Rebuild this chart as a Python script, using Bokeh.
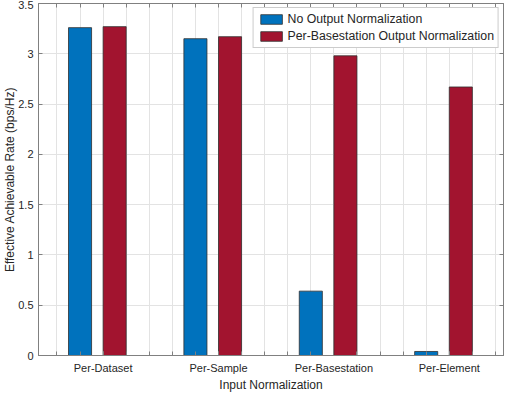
from bokeh.plotting import figure
from bokeh.models import Range1d, FixedTicker, LinearAxis, ColumnDataSource, Legend, LegendItem
from bokeh.embed import file_html
from bokeh.resources import INLINE

categories = ["Per-Dataset", "Per-Sample", "Per-Basestation", "Per-Element"]
no_output_norm = [3.26, 3.15, 0.64, 0.04]
per_bs_output_norm = [3.27, 3.17, 2.98, 2.67]
series_names = ["No Output Normalization", "Per-Basestation Output Normalization"]
y_ticks = [0, 0.5, 1, 1.5, 2, 2.5, 3, 3.5]
y_tick_labels = ["0", "0.5", "1", "1.5", "2", "2.5", "3", "3.5"]

FONT = "Liberation Sans"
TXT = "#262626"
AX = "#808080"
BLUE = "#0072BD"
RED = "#A2142F"

idx = [i + 1 for i in range(len(categories))]
src = ColumnDataSource(dict(
    xb=[i - 0.15 for i in idx],
    xr=[i + 0.15 for i in idx],
    b=no_output_norm,
    r=per_bs_output_norm,
))

p = figure(width=506, height=394, output_backend="svg", toolbar_location=None,
           x_range=Range1d(0.49, 4.52), y_range=Range1d(0, 3.5),
           min_border_left=0, min_border_right=3, min_border_top=3, min_border_bottom=0)

x_ticks = [round(0.65 + 0.2 * k, 2) for k in range(20)]
label_pos = [round(i + 0.05, 2) for i in idx]

p.xaxis.ticker = FixedTicker(ticks=label_pos, minor_ticks=x_ticks)
p.xaxis.major_label_overrides = {t: c for t, c in zip(label_pos, categories)}
p.xgrid.ticker = FixedTicker(ticks=x_ticks)
p.yaxis.ticker = FixedTicker(ticks=y_ticks)
p.yaxis.major_label_overrides = {t: l for t, l in zip(y_ticks, y_tick_labels)}
p.ygrid.ticker = FixedTicker(ticks=y_ticks)

for ax in (p.xaxis[0], p.yaxis[0]):
    ax.axis_line_color = AX
    ax.major_tick_line_color = AX
    ax.major_tick_in = 4
    ax.major_tick_out = 0
    ax.minor_tick_line_color = AX
    ax.minor_tick_in = 4
    ax.minor_tick_out = 0
    ax.major_label_text_font = FONT
    ax.major_label_text_font_size = "11px"
    ax.major_label_text_color = TXT
    ax.major_label_text_line_height = 1.0
    ax.axis_label_text_font = FONT
    ax.axis_label_text_font_size = "12px"
    ax.axis_label_text_color = TXT
    ax.axis_label_text_font_style = "normal"
    ax.axis_label_text_line_height = 1.0

p.xaxis.axis_label = "Input Normalization"
p.yaxis.axis_label = "Effective Achievable Rate (bps/Hz)"
p.xaxis.major_label_standoff = 6
p.xaxis.axis_label_standoff = 1
p.yaxis.major_label_standoff = 5
p.yaxis.axis_label_standoff = -2

top = LinearAxis(ticker=FixedTicker(ticks=[], minor_ticks=x_ticks),
                 major_label_standoff=0, major_tick_in=0, major_tick_out=0,
                 minor_tick_in=4, minor_tick_out=0,
                 axis_line_color=AX, minor_tick_line_color=AX)
right = LinearAxis(ticker=FixedTicker(ticks=[], minor_ticks=y_ticks),
                   major_label_standoff=0, major_tick_in=0, major_tick_out=0,
                   minor_tick_in=4, minor_tick_out=0,
                   axis_line_color=AX, minor_tick_line_color=AX)
p.add_layout(top, "above")
p.add_layout(right, "right")

p.xgrid.grid_line_color = "#e3e3e3"
p.ygrid.grid_line_color = "#e3e3e3"
p.outline_line_color = AX

rb = p.vbar(x="xb", top="b", width=0.2, source=src, fill_color=BLUE,
            line_color="#303030", line_width=0.8)
rr = p.vbar(x="xr", top="r", width=0.2, source=src, fill_color=RED,
            line_color="#303030", line_width=0.8)

legend = Legend(items=[LegendItem(label=series_names[0], renderers=[rb]),
                       LegendItem(label=series_names[1], renderers=[rr])],
                location="top_right")
legend.label_text_font = FONT
legend.label_text_font_size = "12.3px"
legend.label_text_color = TXT
legend.glyph_width = 27
legend.glyph_height = 12
legend.label_height = 13
legend.label_standoff = 3
legend.spacing = 3
legend.padding = 4
legend.margin = 4
legend.border_line_color = "#999999"
legend.background_fill_alpha = 1
p.add_layout(legend)

open("out.html", "w").write(file_html(p, INLINE))
